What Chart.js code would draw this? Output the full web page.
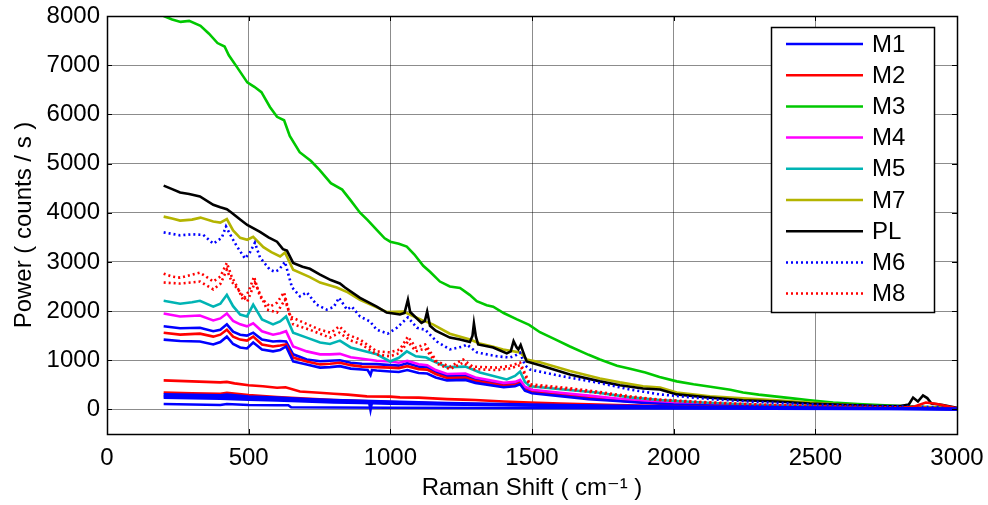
<!DOCTYPE html>
<html>
<head>
<meta charset="utf-8">
<script src="https://cdn.jsdelivr.net/npm/chart.js@4/dist/chart.umd.min.js"></script>
<style>
  html, body { margin: 0; padding: 0; background: #ffffff; }
  #wrap { width: 988px; height: 505px; }
</style>
</head>
<body>
<div id="wrap"><canvas id="c" width="988" height="505"></canvas></div>
<script>
// Axis ticks
const xTicks = [0, 500, 1000, 1500, 2000, 2500, 3000];
const yTicks = [0, 1000, 2000, 3000, 4000, 5000, 6000, 7000, 8000];

// Legend entries (first nine traces)
const legendNames = ['M1', 'M2', 'M3', 'M4', 'M5', 'M7', 'PL', 'M6', 'M8'];

// Spectra: [Raman shift (cm^-1), power (counts/s)]
const M1 = [[200,1690],[258,1650],[328,1660],[375,1590],[400,1620],[423,1730],[445,1580],[470,1520],[494,1500],[516,1560],[547,1420],[586,1380],[611,1390],[632,1380],[657,1120],[705,1015],[752,980],[787,990],[822,1000],[860,950],[900,930],[952,920],[1000,900],[1030,890],[1060,940],[1100,870],[1130,860],[1160,760],[1200,680],[1265,690],[1300,610],[1400,510],[1440,530],[1458,570],[1475,430],[1500,370],[1600,310],[1700,250],[1800,200],[1900,150],[2000,120],[2200,85],[2500,50],[2800,30],[3000,10]];
const M2 = [[200,1560],[258,1520],[328,1540],[375,1480],[400,1520],[423,1620],[445,1480],[470,1420],[494,1400],[516,1480],[547,1320],[586,1280],[611,1300],[632,1320],[657,1055],[705,975],[752,915],[787,930],[822,950],[860,900],[900,870],[952,860],[1000,850],[1030,840],[1060,880],[1100,820],[1130,810],[1160,720],[1200,640],[1265,650],[1300,580],[1400,480],[1440,500],[1458,540],[1475,400],[1500,350],[1600,290],[1700,230],[1800,180],[1900,140],[2000,110],[2200,80],[2500,45],[2800,25],[3000,10]];
const M3 = [[200,8000],[230,7930],[260,7880],[290,7900],[330,7800],[360,7640],[390,7450],[415,7380],[430,7200],[460,6950],[495,6650],[520,6560],[545,6450],[575,6150],[600,5950],[625,5880],[645,5560],[680,5230],[720,5050],[750,4870],[790,4600],[830,4470],[860,4250],[893,4000],[920,3850],[952,3650],[980,3480],[1000,3410],[1030,3370],[1058,3310],[1085,3150],[1116,2920],[1140,2800],[1175,2600],[1210,2500],[1246,2470],[1280,2330],[1305,2200],[1340,2120],[1363,2090],[1400,1960],[1447,1830],[1490,1720],[1528,1570],[1580,1430],[1634,1280],[1700,1110],[1740,1015],[1800,890],[1850,820],[1900,750],[1950,660],[2011,570],[2070,510],[2130,460],[2200,400],[2245,345],[2300,300],[2364,260],[2420,225],[2481,185],[2563,140],[2650,110],[2763,80],[2850,60],[2950,40],[3000,25]];
const M4 = [[200,1950],[258,1890],[328,1910],[375,1810],[400,1850],[423,1950],[445,1800],[470,1730],[494,1690],[516,1750],[547,1590],[586,1520],[611,1550],[632,1590],[657,1280],[705,1180],[752,1120],[787,1120],[822,1130],[860,1060],[900,1030],[952,990],[1000,975],[1030,950],[1060,990],[1100,920],[1130,900],[1160,800],[1200,720],[1265,730],[1300,650],[1400,540],[1440,560],[1458,600],[1475,460],[1500,400],[1600,340],[1700,280],[1800,220],[1900,170],[2000,140],[2200,100],[2500,60],[2800,35],[3000,15]];
const M5 = [[200,2210],[258,2150],[300,2180],[328,2210],[375,2090],[400,2150],[423,2330],[445,2100],[470,1930],[494,1890],[516,2130],[547,1830],[586,1730],[611,1790],[632,1890],[657,1560],[705,1460],[752,1360],[787,1330],[822,1400],[860,1260],[900,1200],[952,1120],[999,975],[1030,1050],[1058,1180],[1090,1080],[1127,1055],[1145,1000],[1200,860],[1265,870],[1316,750],[1411,610],[1440,680],[1458,770],[1475,560],[1493,470],[1610,405],[1728,345],[1846,245],[1950,190],[2100,140],[2300,90],[2500,60],[2700,40],[2900,25],[3000,15]];
const M7 = [[200,3920],[230,3880],[258,3840],[300,3860],[330,3900],[375,3820],[400,3800],[423,3870],[445,3640],[470,3490],[495,3450],[516,3510],[552,3300],[580,3200],[611,3110],[628,3190],[657,2840],[716,2690],[752,2580],[811,2480],[850,2380],[893,2230],[950,2080],[987,1980],[1046,1990],[1080,1900],[1110,1820],[1150,1730],[1210,1540],[1281,1420],[1316,1340],[1360,1280],[1398,1220],[1458,1160],[1481,1015],[1528,960],[1634,780],[1740,630],[1810,550],[1892,470],[1952,445],[2011,345],[2128,265],[2245,225],[2364,185],[2481,140],[2600,100],[2700,70],[2800,50],[2900,40],[3000,20]];
const PL = [[200,4550],[230,4480],[258,4410],[290,4380],[328,4330],[375,4160],[400,4110],[423,4070],[440,4000],[470,3860],[495,3750],[540,3610],[570,3500],[600,3410],[621,3260],[635,3230],[657,2980],[690,2900],[716,2860],[752,2740],[790,2630],[822,2560],[840,2480],[893,2270],[952,2090],[987,1970],[1034,1930],[1050,1960],[1062,2230],[1070,1980],[1090,1870],[1110,1760],[1122,1800],[1130,1990],[1140,1700],[1160,1600],[1210,1460],[1246,1420],[1281,1370],[1290,1500],[1295,1750],[1302,1480],[1310,1320],[1363,1260],[1411,1140],[1425,1180],[1435,1390],[1446,1260],[1452,1220],[1460,1310],[1468,1180],[1481,975],[1528,900],[1634,710],[1740,570],[1810,490],[1892,425],[1952,405],[2011,305],[2128,240],[2245,185],[2364,160],[2481,120],[2600,95],[2700,75],[2800,70],[2830,100],[2845,240],[2862,160],[2880,285],[2895,230],[2910,120],[2950,90],[3000,30]];
const M6 = [[200,3600],[258,3540],[300,3560],[340,3550],[375,3370],[405,3490],[420,3720],[440,3500],[459,3310],[487,3070],[505,3200],[522,3390],[540,3090],[575,2840],[593,2800],[607,2840],[628,3000],[653,2480],[681,2300],[705,2380],[740,2130],[775,2030],[800,2080],[819,2270],[847,2030],[864,2090],[893,1890],[928,1790],[952,1620],[991,1540],[1023,1660],[1062,1870],[1094,1660],[1123,1620],[1164,1380],[1210,1220],[1257,1280],[1270,1320],[1305,1160],[1376,1080],[1422,1055],[1440,1090],[1458,1150],[1475,900],[1493,810],[1610,670],[1728,550],[1846,405],[1952,305],[2050,250],[2150,200],[2300,150],[2500,100],[2700,70],[2900,50],[3000,30]];
const M8 = [[200,2760],[230,2700],[258,2680],[300,2740],[328,2780],[350,2700],[375,2600],[400,2700],[423,2980],[440,2700],[459,2500],[480,2230],[500,2400],[519,2700],[540,2290],[575,2090],[600,2170],[625,2380],[646,1890],[692,1770],[752,1620],[790,1560],[820,1690],[850,1520],[893,1420],[952,1180],[999,1160],[1034,1220],[1062,1480],[1090,1260],[1123,1320],[1164,975],[1210,870],[1257,1015],[1290,870],[1376,850],[1420,880],[1458,950],[1493,510],[1610,445],[1728,365],[1846,265],[1950,200],[2100,150],[2300,100],[2500,70],[2700,50],[2900,30],[3000,20]];

// Further spectra drawn without legend entries
const M6b = [[200,1420],[258,1390],[328,1380],[375,1320],[400,1370],[423,1480],[445,1330],[470,1260],[494,1240],[516,1360],[547,1220],[586,1180],[611,1210],[632,1280],[657,975],[705,915],[752,850],[787,860],[822,880],[860,830],[900,810],[920,800],[930,700],[935,800],[952,790],[1000,770],[1030,760],[1060,800],[1100,740],[1130,730],[1160,650],[1200,590],[1265,600],[1300,540],[1400,450],[1440,470],[1458,510],[1475,380],[1500,330],[1600,270],[1700,210],[1800,170],[1900,130],[2000,100],[2200,70],[2500,40],[2800,20],[3000,5]];
const M8b = [[200,2580],[258,2560],[328,2600],[375,2440],[400,2550],[423,2840],[440,2600],[470,2380],[495,2190],[522,2580],[565,2030],[600,1970],[628,2230],[657,1730],[716,1620],[787,1460],[820,1560],[860,1400],[893,1340],[952,1120],[999,1080],[1034,1150],[1062,1380],[1090,1180],[1123,1240],[1164,930],[1210,820],[1257,950],[1290,820],[1376,800],[1420,830],[1458,900],[1493,480],[1610,420],[1728,340],[1846,250],[1950,190],[2100,140],[2300,90],[2500,60],[2700,40],[2900,30],[3000,15]];
const R1 = [[200,590],[300,570],[400,550],[423,560],[450,530],[500,490],[550,470],[600,440],[630,450],[681,365],[750,340],[800,320],[850,300],[917,265],[1000,260],[1034,245],[1100,240],[1200,210],[1257,200],[1300,190],[1400,160],[1493,140],[1600,120],[1800,90],[1952,70],[2200,50],[2500,35],[2800,25],[2850,60],[2890,140],[2930,110],[3000,20]];
const R2 = [[200,345],[300,330],[400,320],[423,340],[500,290],[600,250],[700,220],[800,190],[900,170],[1000,150],[1200,120],[1400,100],[1600,80],[2000,55],[2500,35],[3000,10]];
const B1 = [[200,305],[300,295],[400,285],[423,300],[500,260],[600,240],[700,210],[800,190],[900,175],[1000,160],[1200,130],[1400,110],[1600,90],[2000,60],[2500,40],[3000,10]];
const B2 = [[200,270],[300,260],[400,250],[423,265],[500,230],[600,210],[700,190],[800,170],[900,150],[925,150],[930,-10],[935,140],[1000,130],[1200,110],[1400,95],[1600,75],[2000,50],[2500,30],[3000,5]];
const B3 = [[200,240],[300,230],[400,220],[500,200],[600,180],[700,160],[800,140],[900,130],[1000,115],[1200,100],[1400,85],[1600,70],[2000,45],[2500,25],[3000,5]];
const B4 = [[200,110],[300,100],[400,90],[423,110],[500,90],[600,85],[640,85],[650,45],[800,40],[1000,35],[1400,30],[2000,20],[3000,5]];

const BLUE = '#0000ff', RED = '#ff0000', GREEN = '#00c800', MAGENTA = '#ff00ff',
      CYAN = '#00b4b4', OLIVE = '#b4b400', BLACK = '#000000';
const SOLID = [], DOTTED = [2, 3];

const traces = [
  { label: 'M1', pts: M1, color: BLUE, dash: SOLID },
  { label: 'M2', pts: M2, color: RED, dash: SOLID },
  { label: 'M3', pts: M3, color: GREEN, dash: SOLID },
  { label: 'M4', pts: M4, color: MAGENTA, dash: SOLID },
  { label: 'M5', pts: M5, color: CYAN, dash: SOLID },
  { label: 'M7', pts: M7, color: OLIVE, dash: SOLID },
  { label: 'PL', pts: PL, color: BLACK, dash: SOLID },
  { label: 'M6', pts: M6, color: BLUE, dash: DOTTED },
  { label: 'M8', pts: M8, color: RED, dash: DOTTED },
  { label: 'M1', pts: M6b, color: BLUE, dash: SOLID },
  { label: 'M8', pts: M8b, color: RED, dash: DOTTED },
  { label: 'M2', pts: R1, color: RED, dash: SOLID },
  { label: 'M2', pts: R2, color: RED, dash: SOLID },
  { label: 'M1', pts: B1, color: BLUE, dash: SOLID },
  { label: 'M1', pts: B2, color: BLUE, dash: SOLID },
  { label: 'M1', pts: B3, color: BLUE, dash: SOLID },
  { label: 'M1', pts: B4, color: BLUE, dash: SOLID }
];

const FONT = '"Liberation Sans", Arial, Helvetica, "DejaVu Sans", sans-serif';
const FONT_SIZE = 24;

// Boxed axes with inward ticks on all four sides, plus the legend box
const boxPlugin = {
  id: 'boxAxes',
  afterDatasetsDraw(chart) {
    const { ctx, chartArea: a, scales } = chart;
    const tl = 5;
    ctx.save();
    ctx.strokeStyle = '#000';
    ctx.lineWidth = 1;
    ctx.setLineDash([]);
    ctx.beginPath();
    xTicks.forEach(v => {
      const x = Math.round(scales.x.getPixelForValue(v)) + 0.5;
      ctx.moveTo(x, a.bottom); ctx.lineTo(x, a.bottom - tl);
      ctx.moveTo(x, a.top); ctx.lineTo(x, a.top + tl);
    });
    yTicks.forEach(v => {
      const y = Math.round(scales.y.getPixelForValue(v)) + 0.5;
      ctx.moveTo(a.left, y); ctx.lineTo(a.left + tl, y);
      ctx.moveTo(a.right, y); ctx.lineTo(a.right - tl, y);
    });
    ctx.stroke();
    ctx.lineWidth = 1.5;
    ctx.strokeRect(Math.round(a.left) + 0.5, Math.round(a.top) + 0.5,
                   Math.round(a.right - a.left), Math.round(a.bottom - a.top));

    // legend
    const lx = 771, ly = 27, lw = 163, lh = 285, rowH = 31.2, row0 = 44;
    ctx.fillStyle = '#fff';
    ctx.fillRect(lx, ly, lw, lh);
    ctx.lineWidth = 1.5;
    ctx.strokeStyle = '#000';
    ctx.strokeRect(lx + 0.5, ly + 0.5, lw, lh);
    ctx.font = FONT_SIZE + 'px ' + FONT;
    ctx.textBaseline = 'middle';
    ctx.textAlign = 'left';
    legendNames.forEach((name, i) => {
      const ds = chart.data.datasets[i];
      const y = row0 + i * rowH;
      ctx.strokeStyle = ds.borderColor;
      ctx.lineWidth = 2.5;
      ctx.setLineDash(ds.borderDash || []);
      ctx.beginPath();
      ctx.moveTo(786, y); ctx.lineTo(863, y);
      ctx.stroke();
      ctx.setLineDash([]);
      ctx.fillStyle = '#000';
      ctx.fillText(name, 872, y + 1);
    });
    ctx.restore();
  }
};

// keep the plot box fixed: labels may overhang the layout padding
function noOverhang(s) {
  s.paddingLeft = 0; s.paddingRight = 0; s.paddingTop = 0; s.paddingBottom = 0;
}

new Chart(document.getElementById('c'), {
  type: 'line',
  data: {
    datasets: traces.map((t, i) => ({
      label: t.label,
      data: t.pts.map(([x, y]) => ({ x, y })),
      borderColor: t.color,
      borderDash: t.dash,
      borderWidth: 2.6,
      pointRadius: 0,
      tension: 0,
      fill: false,
      order: -i
    }))
  },
  options: {
    responsive: false,
    devicePixelRatio: 1,
    animation: false,
    events: [],
    layout: { padding: { left: 0, right: 31, top: 16, bottom: 0 } },
    plugins: { legend: { display: false }, tooltip: { enabled: false } },
    scales: {
      x: {
        type: 'linear',
        min: 0, max: 3000,
        afterBuildTicks(s) { s.ticks = xTicks.map(v => ({ value: v })); },
        afterFit(s) { s.height = 71; noOverhang(s); },
        grid: { color: 'rgba(0,0,0,0.45)', lineWidth: 1, drawTicks: false },
        border: { display: false },
        ticks: { color: '#000', font: { family: FONT, size: FONT_SIZE }, padding: 10, maxRotation: 0,
                 callback: v => String(v) },
        title: { display: true, text: 'Raman Shift ( cm⁻¹ )', color: '#000',
                 font: { family: FONT, size: FONT_SIZE }, padding: { top: 0, bottom: 2 } }
      },
      y: {
        min: -500, max: 8000,
        afterBuildTicks(s) { s.ticks = yTicks.map(v => ({ value: v })); },
        afterFit(s) { s.width = 107; noOverhang(s); },
        grid: { color: 'rgba(0,0,0,0.45)', lineWidth: 1, drawTicks: false },
        border: { display: false },
        ticks: { color: '#000', font: { family: FONT, size: FONT_SIZE }, padding: 7,
                 callback: v => String(v) },
        title: { display: true, text: 'Power ( counts / s )', color: '#000',
                 font: { family: FONT, size: FONT_SIZE }, padding: { top: 10, bottom: 0 } }
      }
    }
  },
  plugins: [boxPlugin]
});
</script>
</body>
</html>
